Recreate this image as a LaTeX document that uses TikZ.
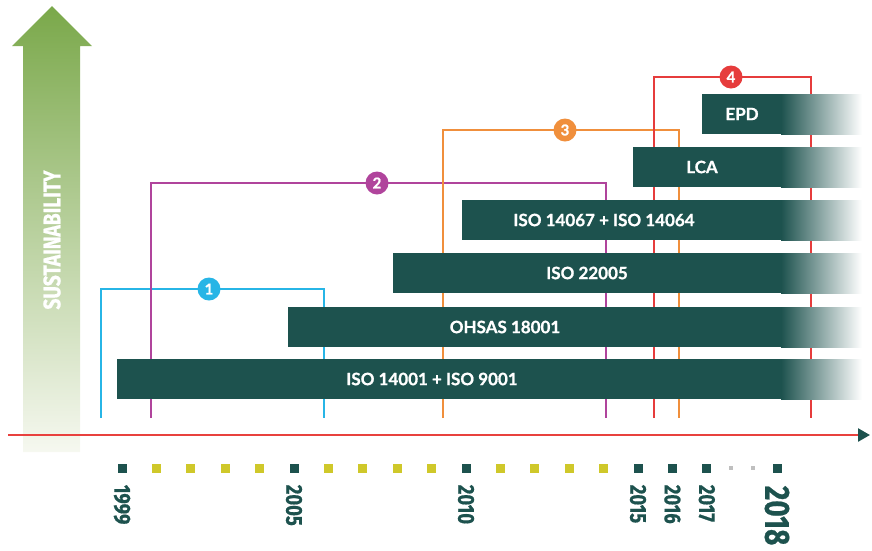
\documentclass[tikz,border=0pt]{standalone}
\usepackage{fontspec}
\setmainfont{Lato}
\newfontfamily\barfont[BoldFeatures={FakeBold=1}]{Lato}
\newfontfamily\condfont[FakeStretch=0.8, BoldFeatures={FakeBold=0.6}]{Fira Sans}
\usetikzlibrary{arrows.meta,positioning}

\definecolor{barteal}{RGB}{29,82,78}
\definecolor{tickyellow}{RGB}{207,200,42}
\definecolor{axisred}{RGB}{232,65,62}
\definecolor{upgreen}{RGB}{122,168,74}
\definecolor{upfade}{RGB}{246,248,240}
\definecolor{phaseblue}{RGB}{39,181,230}
\definecolor{phasepink}{RGB}{176,68,156}
\definecolor{phaseorange}{RGB}{240,143,60}
\definecolor{phasered}{RGB}{230,60,60}

\tikzset{
  barlabel/.style={text=white, font=\barfont\bfseries\fontsize{17}{17}\selectfont, inner sep=0pt},
  phase/.style={draw=#1, line width=2pt},
  badge/.style={circle, fill=#1, text=white, inner sep=0pt, minimum size=23pt,
    font=\barfont\bfseries\fontsize{15}{15}\selectfont},
  yearbox/.style={fill=barteal, minimum size=9pt, inner sep=0pt},
  halfbox/.style={fill=tickyellow, minimum size=9pt, inner sep=0pt},
  yearlabel/.style={rotate=-90, anchor=west, text=barteal, inner sep=0pt,
    font=\condfont\bfseries\fontsize{23}{23}\selectfont},
}

\begin{document}
\begin{tikzpicture}[x=1pt, y=-1pt]
  \useasboundingbox (0,0) rectangle (872,550);

  % sustainability arrow
  \shade[top color=upgreen, bottom color=upfade]
    (52,6) -- (92,46) -- (80,46) -- (80,452) -- (23,452) -- (23,46) -- (12,46) -- cycle;
  \node[rotate=90, text=white, font=\condfont\bfseries\fontsize{24}{24}\selectfont]
    (sust) at (52,240) {SUSTAINABILITY};

  % phases
  \draw[phase=phaseblue] (101,418) |- (324,289) -- (324,418);
  \draw[phase=phasepink] (151,418) |- (606,183) -- (606,418);
  \draw[phase=phaseorange] (443,418) |- (679,130) -- (679,418);
  \draw[phase=phasered] (654,418) |- (811,77) -- (811,418);
  \node[badge=phaseblue] (p1) at (209,289) {1};
  \node[badge=phasepink] (p2) at (377,183) {2};
  \node[badge=phaseorange] (p3) at (565,130) {3};
  \node[badge=phasered] (p4) at (731,77) {4};

  % standards
  \foreach \n/\x/\y/\c/\t in {b1/117/359/432/ISO 14001 + ISO 9001,
      b2/288/307/505/OHSAS 18001, b3/393/253/587/ISO 22005,
      b4/462/200/604/ISO 14067 + ISO 14064, b5/633/147/702/LCA, b6/702/94/742/EPD} {
    \fill[barteal] (\x,\y) rectangle (782,\y+40);
    \shade[left color=barteal, right color=white] (781,\y) rectangle (862,\y+40);
    \node[barlabel] (\n) at (\c,\y+20) {\t};
  }

  % time axis
  \draw[axisred, line width=2.5pt, -{Triangle[length=12pt, width=13pt, color=barteal]}]
    (8,435) -- (870,435);

  \foreach \i in {1,2,3,4,6,7,8,9,11,12,13,14}
    \node[halfbox] (h\i) at (122+34.4*\i,468) {};
  \foreach \i/\yr in {0/1999,5/2005,10/2010,15/2015,16/2016,17/2017} {
    \node[yearbox] (t\yr) at (122+34.4*\i,468) {};
    \node[yearlabel] (y\yr) at ([yshift=-12pt]t\yr.south) {\yr};
  }
  \node[fill=gray!50, minimum size=4pt, inner sep=0pt] (g1) at (731,468) {};
  \node[fill=gray!50, minimum size=4pt, inner sep=0pt] (g2) at (753,468) {};
  \node[yearbox] (t2018) at (777,468) {};
  \node[yearlabel, font=\condfont\bfseries\fontsize{35}{35}\selectfont]
    (y2018) at ([yshift=-13pt]t2018.south) {2018};
\end{tikzpicture}
\end{document}
